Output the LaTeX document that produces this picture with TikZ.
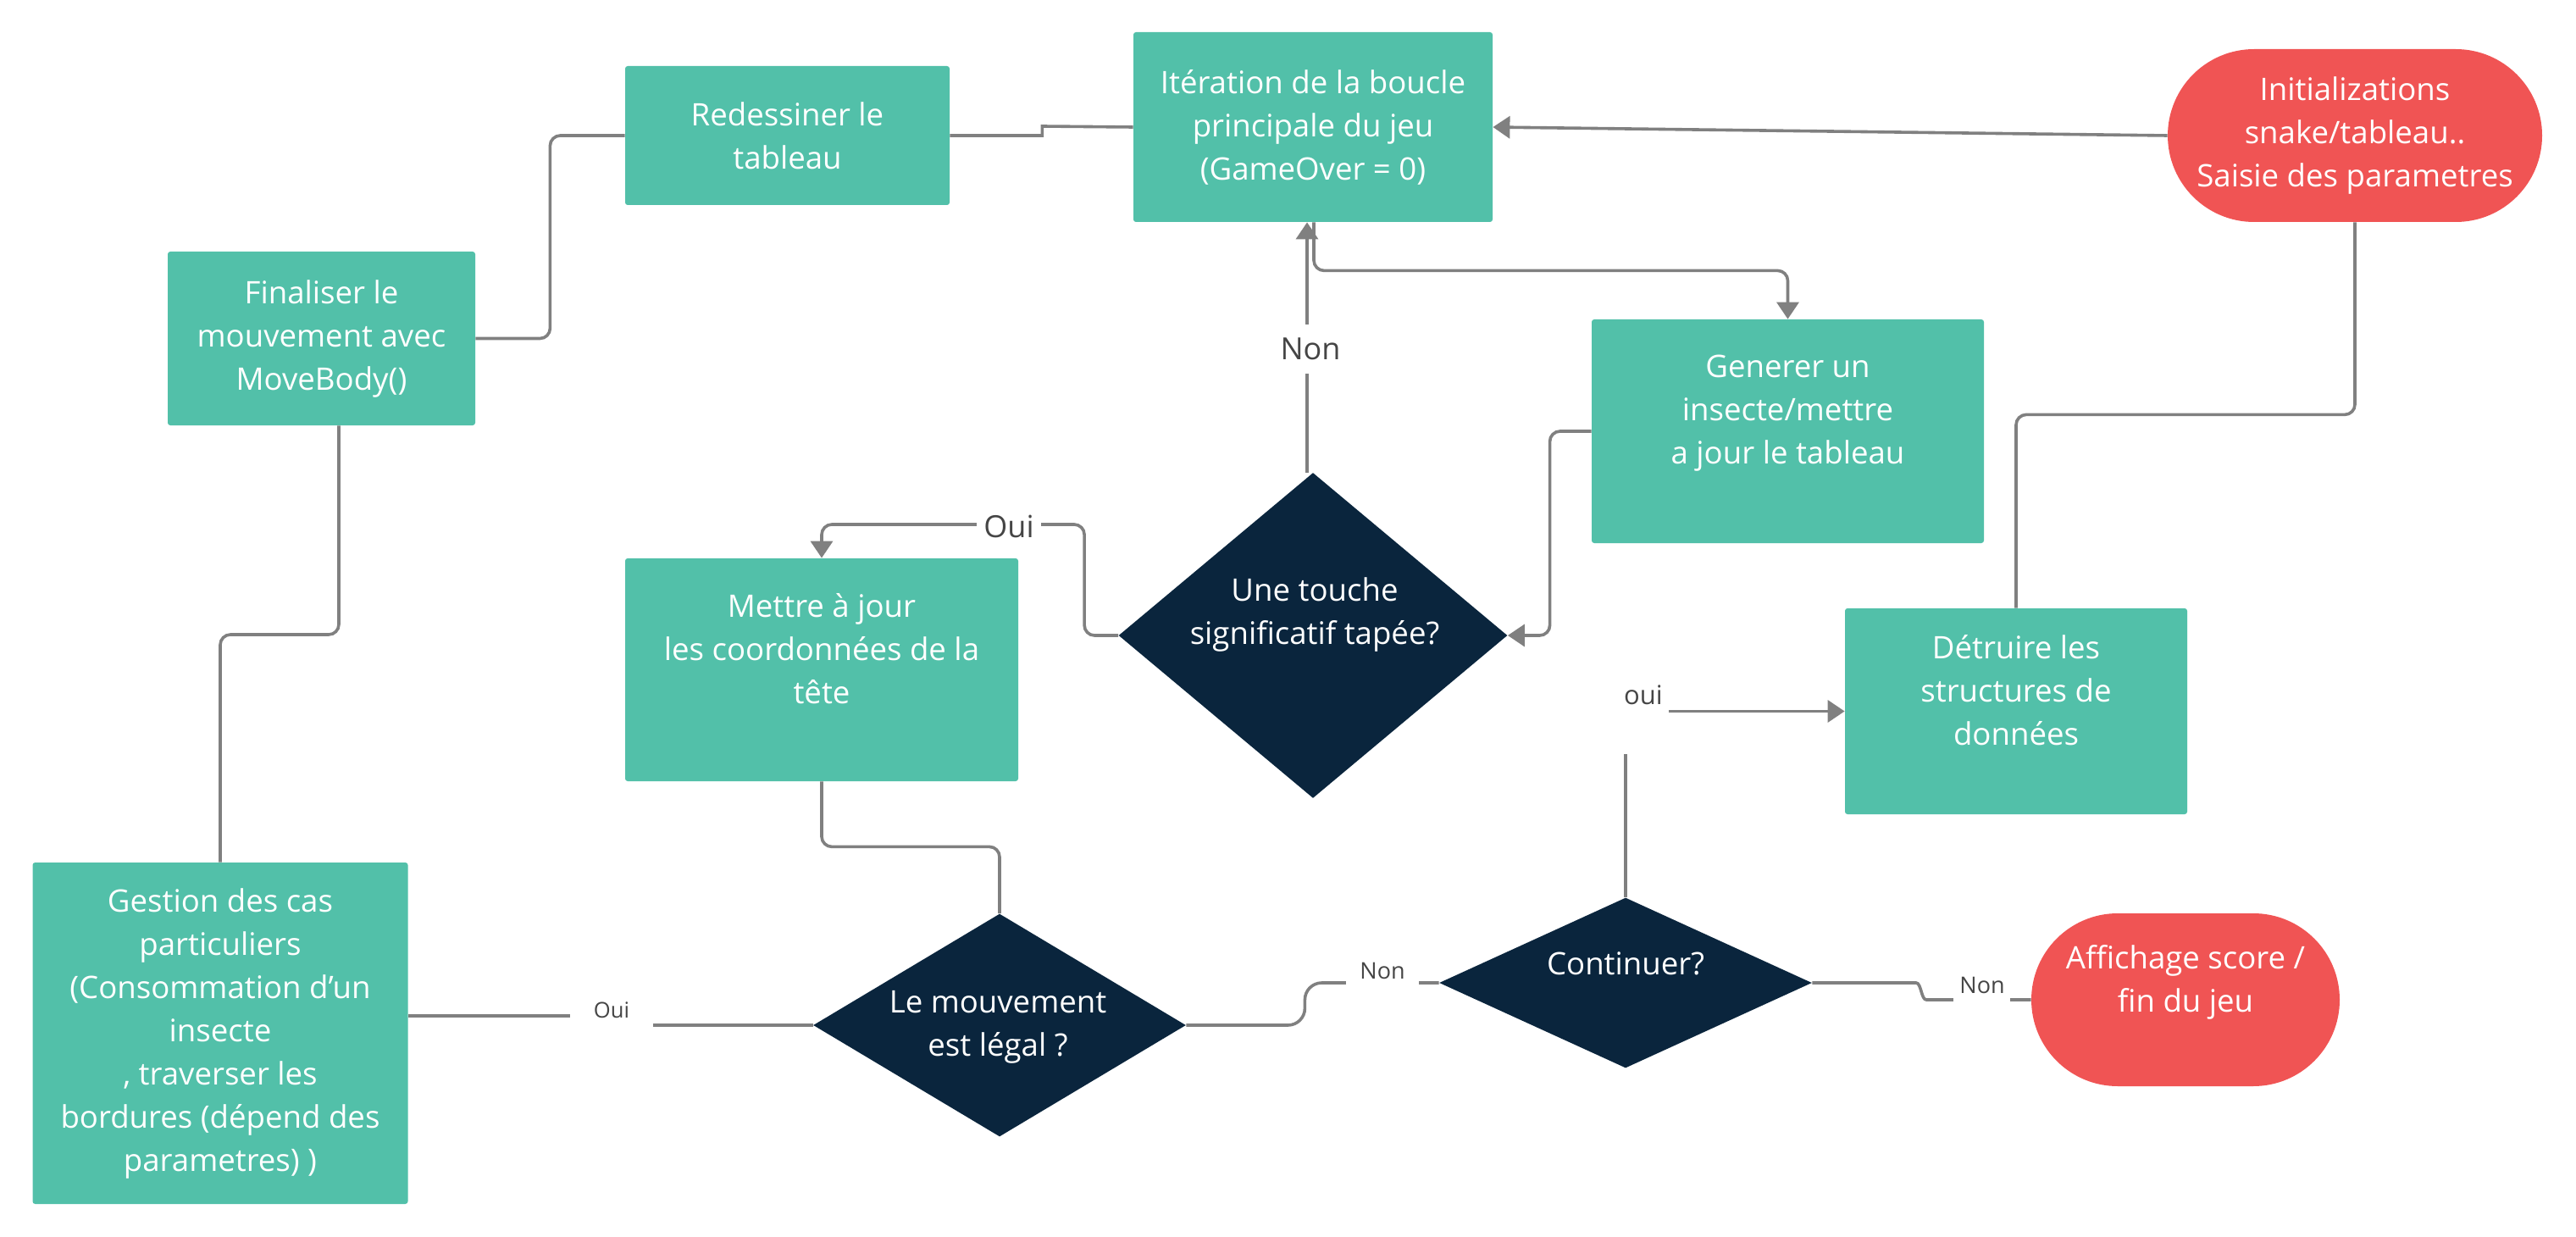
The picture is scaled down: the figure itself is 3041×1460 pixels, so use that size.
\documentclass[tikz,border=0pt]{standalone}
\usepackage{fontspec}
\setmainfont{Open Sans}
\usetikzlibrary{arrows.meta,shapes.geometric,calc}
\definecolor{boxteal}{HTML}{52C0A9}
\definecolor{termred}{HTML}{F05454}
\definecolor{decnavy}{HTML}{0A253D}
\definecolor{linegray}{HTML}{808080}
\definecolor{labgray}{HTML}{454545}
\newcommand{\bxfont}{\fontsize{18.3}{25.5}\selectfont}
\begin{document}
\begin{tikzpicture}[x=0.5pt,y=-0.5pt,
  proc/.style={rectangle, rounded corners=1.5pt, fill=boxteal, text=white, align=center, inner sep=0pt, font=\bxfont},
  term/.style={rectangle, rounded corners=51pt, fill=termred, text=white, align=center, inner sep=0pt, font=\bxfont},
  dec/.style={diamond, fill=decnavy, inner sep=0pt},
  dtext/.style={text=white, align=center, font=\bxfont, inner sep=0pt},
  conn/.style={draw=linegray, line width=1.8pt, rounded corners=6pt},
  sharpconn/.style={draw=linegray, line width=1.8pt},
  arr/.style={conn, -{Triangle[length=10pt,width=13pt]}},
  lab/.style={text=labgray, fill=white, inner sep=3pt}]
\useasboundingbox (0,0) rectangle (3041,1460);
% nodes
\node[proc, minimum width=191.5pt, minimum height=82pt] (redess) at (929.5,160) {Redessiner le\\tableau};
\node[proc, minimum width=212pt, minimum height=112pt] (iter) at (1550,150) {Itération de la boucle\\principale du jeu\\(GameOver = 0)};
\node[term, minimum width=221pt, minimum height=102pt] (init) at (2780,160) {Initializations\\snake/tableau..\\Saisie des parametres};
\node[proc, minimum width=181.5pt, minimum height=102.5pt] (final) at (379.5,399.5) {Finaliser le\\mouvement avec\\MoveBody()};
\node[proc, minimum width=231.5pt, minimum height=132pt] (gen) at (2110.5,509) {Generer un\\insecte/mettre\\a jour le tableau\\\mbox{}};
\node[proc, minimum width=232pt, minimum height=131.5pt] (mettre) at (970,790.5) {Mettre à jour\\les coordonnées de la\\tête\\\mbox{}};
\node[proc, minimum width=202pt, minimum height=121.5pt] (detr) at (2380,839.5) {Détruire les\\structures de\\données\\\mbox{}};
\node[proc, minimum width=221.5pt, minimum height=201.5pt] (gestion) at (260,1219.5) {Gestion des cas\\particuliers\\(Consommation d\symbol{39}un\\insecte\\, traverser les\\bordures (dépend des\\parametres) )};
\node[term, minimum width=182pt, minimum height=102pt] (affich) at (2580,1180) {Affichage score /\\fin du jeu\\\mbox{}};
\node[dec, minimum width=229.5pt, minimum height=192pt] (touche) at (1550,750) {};
\node[dtext] (touchet) at (1552,725) {Une touche\\significatif tapée?};
\node[dec, minimum width=220pt, minimum height=131.5pt] (legal) at (1180,1210) {};
\node[dtext] (legalt) at (1178,1212) {Le mouvement\\est légal ?};
\node[dec, minimum width=220pt, minimum height=100.5pt] (cont) at (1919,1160) {};
\node[dtext] (contt) at (1919,1137) {Continuer?};
% connectors
\draw[arr, rounded corners=0pt] (init.west) -- (iter.east);
\draw[sharpconn] (redess.east) -- ++(109,0) -- ++(0,-11) -- (iter.west);
\draw[conn] (final.east) -- ++(88,0) |- (redess.west);
\draw[conn] (gestion.north) -- (260,749) -| ($(final.south)+(20.5,0)$);
\draw[arr] ($(touche.north)+(-7,0)$) -- ($(iter.south)+(-7,0)$);
\node[lab, font=\fontsize{18}{22}\selectfont, inner ysep=8pt] (nontop) at (1547,412) {Non};
\draw[arr] ($(iter.south)+(1,0)$) -- ++(0,57) -| (gen.north);
\draw[arr] (gen.west) -- ++(-49,0) |- (touche.east);
\draw[arr] (touche.west) -- ++(-40,0) -- ++(0,-131) -| (mettre.north);
\node[lab, font=\fontsize{18}{22}\selectfont, inner xsep=4pt, inner ysep=0pt] (ouitouche) at (1191,621) {Oui};
\draw[conn] (mettre.south) -- ++(0,77) -| (legal.north);
\draw[sharpconn] (legal.west) -- ++(-238,0) -- ++(0,-11) -- ($(gestion.east)+(0,-20.5)$);
\node[lab, font=\fontsize{12.8}{16}\selectfont, inner xsep=14pt, inner ysep=6pt] (ouilegal) at (722,1192) {Oui};
\draw[conn, rounded corners=10pt] (legal.east) -- ++(140,0) |- (cont.west);
\node[lab, font=\fontsize{13.5}{16}\selectfont, inner xsep=8pt, inner ysep=6pt] (nonlegal) at (1632,1146) {Non};
\draw[arr, rounded corners=0pt] (cont.north) |- (detr.west);
\fill[white] (1868,790) rectangle (1970,890);
\node[text=labgray, font=\fontsize{15.5}{18}\selectfont, inner sep=0pt] (ouicont) at (1940,820) {oui};
\draw[conn] (cont.east) -- (2250,1160) .. controls (2268,1160) and (2268,1180) .. (2286,1180) -- (affich.west);
\fill[white] (2306,1140) rectangle (2373,1190);
\node[text=labgray, font=\fontsize{13.5}{16}\selectfont, inner sep=0pt] (noncont) at (2340,1163) {Non};
\draw[conn] (init.south) -- ++(0,227) -| (detr.north);
\end{tikzpicture}
\end{document}
